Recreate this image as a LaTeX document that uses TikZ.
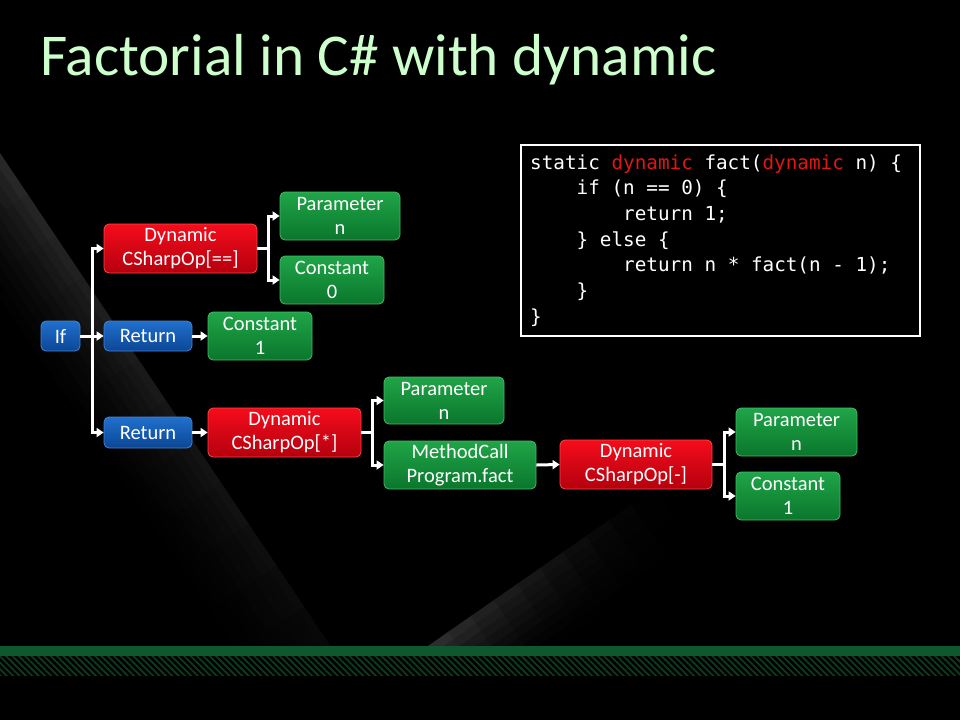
\documentclass[tikz,border=0pt]{standalone}
\usepackage{fontspec}
\setmainfont{Carlito}
\newfontfamily\codefont[WordSpace={1,0,0}]{DejaVu Sans Mono}
\usetikzlibrary{arrows.meta,patterns.meta,calc}
\definecolor{titlegreen}{RGB}{204,255,204}
\definecolor{bluetop}{RGB}{32,112,204}
\definecolor{bluebot}{RGB}{12,70,150}
\definecolor{blueedge}{RGB}{70,130,210}
\definecolor{redtop}{RGB}{245,12,28}
\definecolor{redbot}{RGB}{180,0,14}
\definecolor{rededge}{RGB}{255,70,70}
\definecolor{greentop}{RGB}{32,165,72}
\definecolor{greenbot}{RGB}{10,118,44}
\definecolor{greenedge}{RGB}{70,185,100}
\definecolor{codered}{RGB}{225,22,22}
\definecolor{bargreen}{RGB}{14,88,45}
\definecolor{hatchgreen}{RGB}{14,58,32}
\begin{document}
\begin{tikzpicture}[x=1pt,y=-1pt,
  box/.style={rounded corners=5pt, inner sep=0pt, align=center, text=white,
    font=\fontsize{20.5}{24}\selectfont, line width=0.8pt},
  bluebox/.style={box, draw=blueedge, top color=bluetop, bottom color=bluebot},
  redbox/.style={box, draw=rededge, top color=redtop, bottom color=redbot},
  greenbox/.style={box, draw=greenedge, top color=greentop, bottom color=greenbot},
  wire/.style={draw=white, line width=3pt},
  conn/.style={wire, -{Triangle[length=7pt,width=9pt]}},
  biconn/.style={wire, {Triangle[length=7pt,width=9pt]}-{Triangle[length=7pt,width=9pt]}},
  codeline/.style={anchor=base west, inner sep=0pt, text=white,
    font=\codefont\fontsize{19.3}{25.7}\selectfont}
]
\useasboundingbox (0,0) rectangle (960,720);
\fill[black] (0,0) rectangle (960,720);

% background swoosh 1 (upper left)
\begin{scope}
\clip (0,0) rectangle (960,646);
\begin{scope}[shift={(0,153)}, x={(0.557pt,-0.8305pt)}, y={(-0.8305pt,-0.557pt)}]
\foreach \i in {0,...,11}{
  \foreach \j in {0,...,9}{
    \pgfmathsetmacro{\tz}{\i*596/12}
    \pgfmathsetmacro{\tw}{(\i+1)*596/12+0.8}
    \pgfmathsetmacro{\sz}{\j*9}
    \pgfmathsetmacro{\sw}{(\j+1)*9+0.8}
    \pgfmathsetmacro{\pp}{(17-14*(\i+0.5)/12)*(1-(\j+0.5)/10)^1.6}
    \fill[white!\pp!black] (\tz,\sz) -- (\tw,\sz) -- (\tw,\sw) -- (\tz,\sw) -- cycle;
  }
}
\end{scope}
% background swoosh 2 (bottom centre)
\begin{scope}[shift={(425,648)}, x={(0.821pt,0.571pt)}, y={(0.571pt,-0.821pt)}]
\foreach \i in {0,...,9}{
  \foreach \j in {0,...,7}{
    \pgfmathsetmacro{\tz}{\i*28}
    \pgfmathsetmacro{\tw}{(\i+1)*28+0.8}
    \pgfmathsetmacro{\sz}{\j*9}
    \pgfmathsetmacro{\sw}{(\j+1)*9+0.8}
    \pgfmathsetmacro{\pp}{20*(1-(\i+0.5)/10)^1.3*(1-(\j+0.5)/8)^1.3}
    \fill[white!\pp!black] (\tz,\sz) -- (\tw,\sz) -- (\tw,\sw) -- (\tz,\sw) -- cycle;
  }
}
\end{scope}
\end{scope}

% bottom bands
\fill[bargreen] (0,646) rectangle (960,656);
\fill[pattern={Lines[angle=-45,distance=4.5pt,line width=1.8pt]}, pattern color=hatchgreen] (0,656) rectangle (960,675);

% title
\node[anchor=base west, inner sep=0pt, text=titlegreen, font=\fontsize{59.3}{70}\selectfont] (title) at (40,75) {Factorial in C\# with dynamic};

% code box
\node[draw=white, line width=1.5pt, minimum width=399pt, minimum height=191pt, inner sep=0pt, anchor=north west] (codebox) at (520,144) {};
\node[codeline] (c1) at (530,169) {static \textcolor{codered}{dynamic} fact(\textcolor{codered}{dynamic} n) \{};
\node[codeline] (c2) at (576.5,194.7) {if (n == 0) \{};
\node[codeline] (c3) at (623,220.4) {return 1;};
\node[codeline] (c4) at (576.5,246.1) {\} else \{};
\node[codeline] (c5) at (623,271.8) {return n * fact(n - 1);};
\node[codeline] (c6) at (576.5,297.5) {\}};
\node[codeline] (c7) at (530,323.2) {\}};

% tree nodes
\node[bluebox, minimum width=39pt, minimum height=30pt] (if) at (60.5,336) {If};
\node[bluebox, minimum width=88pt, minimum height=30pt] (ret1) at (148,336) {Return};
\node[bluebox, minimum width=88pt, minimum height=31pt] (ret2) at (148,432.5) {Return};
\node[redbox, minimum width=153pt, minimum height=49pt] (dyn1) at (180.5,248.5) {Dynamic\\CSharpOp[==]};
\node[greenbox, minimum width=120pt, minimum height=48pt] (par1) at (340,216) {Parameter\\n};
\node[greenbox, minimum width=104pt, minimum height=48pt] (con0) at (332,280) {Constant\\0};
\node[greenbox, minimum width=104pt, minimum height=48pt] (con1) at (260,336) {Constant\\1};
\node[redbox, minimum width=153pt, minimum height=49pt] (dyn2) at (284.5,432.5) {Dynamic\\CSharpOp[*]};
\node[greenbox, minimum width=120pt, minimum height=47pt] (par2) at (444,400.5) {Parameter\\n};
\node[greenbox, minimum width=152pt, minimum height=48pt] (mcall) at (460,465) {MethodCall\\Program.fact};
\node[redbox, minimum width=152pt, minimum height=49pt] (dyn3) at (636,464.5) {Dynamic\\CSharpOp[-]};
\node[greenbox, minimum width=121pt, minimum height=48pt] (par3) at (796.5,432) {Parameter\\n};
\node[greenbox, minimum width=104pt, minimum height=48pt] (con1b) at (788,496) {Constant\\1};

% junction coordinates
\coordinate (bus) at (92,336);
\coordinate (j1) at (268,248.5);
\coordinate (j2) at (372,432.5);
\coordinate (j3) at (724,464.5);

% connectors
\draw[biconn] (dyn1.west) -| (bus |- ret2.west) -- (ret2.west);
\draw[conn] (if.east) -- (ret1.west);
\draw[conn] (ret1.east) -- (con1.west);
\draw[wire] (dyn1.east) -- (j1);
\draw[biconn] (par1.west) -| (j1 |- con0.west) -- (con0.west);
\draw[conn] (ret2.east) -- (dyn2.west);
\draw[wire] (dyn2.east) -- (j2);
\draw[biconn] (par2.west) -| (j2 |- mcall.west) -- (mcall.west);
\draw[conn] (mcall.east) -- (dyn3.west);
\draw[wire] (dyn3.east) -- (j3);
\draw[biconn] (par3.west) -| (j3 |- con1b.west) -- (con1b.west);
\end{tikzpicture}
\end{document}
